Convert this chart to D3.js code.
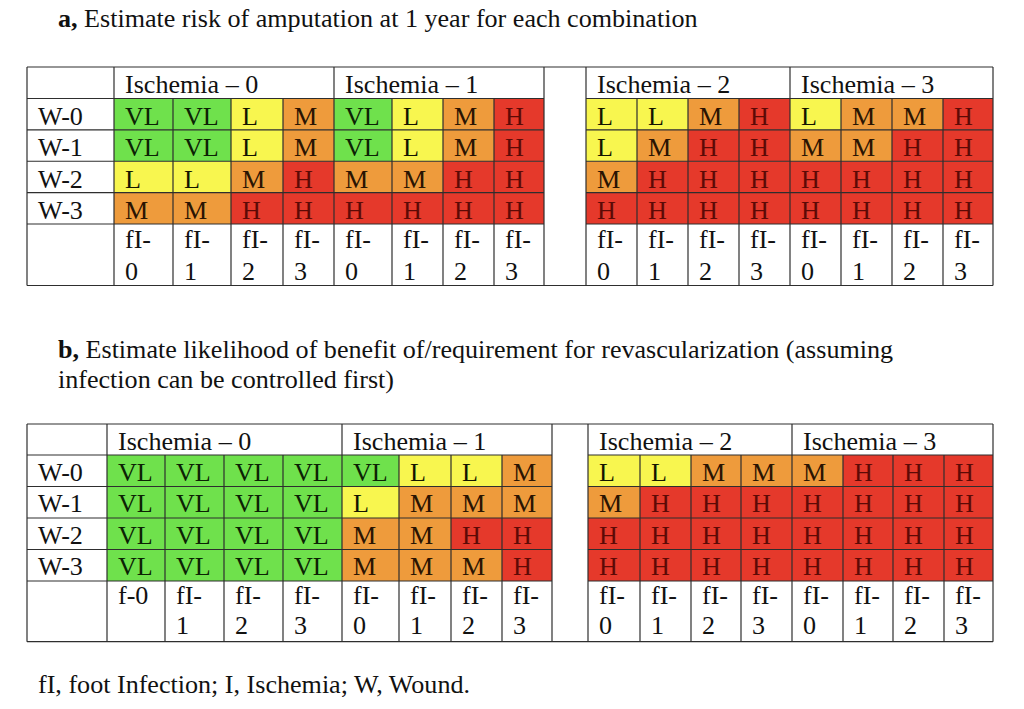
<!DOCTYPE html>
<html><head><meta charset="utf-8">
<script src="https://cdn.jsdelivr.net/npm/d3@7"></script>
<style>
html,body{margin:0;padding:0;background:#fff;}
svg{display:block;}
text{font-family:"Liberation Serif","Times New Roman",Times,serif;}
</style></head>
<body>
<svg id="chart" width="1024" height="709"></svg>
<script>
// ---------- data ----------
const levels = ["VL", "L", "M", "H"];
const rowLabels = ["W-0", "W-1", "W-2", "W-3"];
const ischemiaLabels = ["Ischemia – 0", "Ischemia – 1", "Ischemia – 2", "Ischemia – 3"];
const footLabelsA = ["fI-0","fI-1","fI-2","fI-3","fI-0","fI-1","fI-2","fI-3","fI-0","fI-1","fI-2","fI-3","fI-0","fI-1","fI-2","fI-3"];
const footLabelsB = ["f-0","fI-1","fI-2","fI-3","fI-0","fI-1","fI-2","fI-3","fI-0","fI-1","fI-2","fI-3","fI-0","fI-1","fI-2","fI-3"];
const gradesA = [
  ["VL","VL","L","M", "VL","L","M","H", "L","L","M","H", "L","M","M","H"],
  ["VL","VL","L","M", "VL","L","M","H", "L","M","H","H", "M","M","H","H"],
  ["L","L","M","H",   "M","M","H","H",  "M","H","H","H", "H","H","H","H"],
  ["M","M","H","H",   "H","H","H","H",  "H","H","H","H", "H","H","H","H"]
];
const gradesB = [
  ["VL","VL","VL","VL", "VL","L","L","M", "L","L","M","M", "M","H","H","H"],
  ["VL","VL","VL","VL", "L","M","M","M",  "M","H","H","H", "H","H","H","H"],
  ["VL","VL","VL","VL", "M","M","H","H",  "H","H","H","H", "H","H","H","H"],
  ["VL","VL","VL","VL", "M","M","M","H",  "H","H","H","H", "H","H","H","H"]
];
const titleA = ["Estimate risk of amputation at 1 year for each combination"];
const titleB = ["Estimate likelihood of benefit of/requirement for revascularization (assuming", "infection can be controlled first)"];
const footnote = "fI, foot Infection; I, Ischemia; W, Wound.";

// ---------- layout ----------
const FS = 24.5, SX = 1.065;
const fill = d3.scaleOrdinal().domain(levels).range(["#6fe14c", "#f8f64f", "#ee9b3c", "#e5392b"]);
const ink = d3.scaleOrdinal().domain(levels).range(["#0c2204", "#141400", "#2a1402", "#5c0a06"]);
const LINE = "#2e2e2e";

const tables = [
  { grades: gradesA, foot: footLabelsA, left: 27, labelRight: 114, top: 67, headBottom: 98.5, footTop: 224, bottom: 285.5,
    edges: [114,173,231,283,334,392,443,494,544,586,637,688,739,790,841,892,943,993],
    headBase: 26, rowBase: 26.5, footBase1: 24, footBase2: 56 },
  { grades: gradesB, foot: footLabelsB, left: 27, labelRight: 107, top: 424, headBottom: 455, footTop: 581, bottom: 641.7,
    edges: [107,165,224,283,342,399,451,502,552,588,640,691,741,792,843,893,944,993],
    headBase: 25.5, rowBase: 25.5, footBase1: 23, footBase2: 53 }
];

const svg = d3.select("#chart");

function txt(g, x, y, s, opts = {}) {
  const t = g.append("text")
    .attr("transform", `translate(${x},${y}) scale(${SX},1)`)
    .attr("font-size", opts.size || FS)
    .attr("fill", opts.fill || "#111")
    .text(s);
  if (opts.bold) t.attr("font-weight", "bold");
  return t;
}

// titles
function title(y, lead, lines) {
  const g = svg.append("g");
  lines.forEach((line, i) => {
    const t = g.append("text")
      .attr("transform", `translate(58,${y + i * 30}) scale(${SX},1)`)
      .attr("font-size", FS).attr("fill", "#111");
    if (i === 0) t.append("tspan").attr("font-weight", "bold").text(lead + " ");
    t.append("tspan").text(line);
  });
}
title(27, "a,", titleA);
title(358, "b,", titleB);
txt(svg, 38, 693, footnote);

tables.forEach(T => {
  const g = svg.append("g");
  // unit position -> pixel, gap occupies unit 8..9
  const x = d3.scaleLinear().domain(d3.range(T.edges.length)).range(T.edges);
  const colUnit = i => i + (i >= 8 ? 1 : 0);
  const y = d3.scaleBand().domain(rowLabels).range([T.headBottom, T.footTop]).paddingInner(0);
  const right = T.edges[T.edges.length - 1];
  const gapL = x(8), gapR = x(9);

  // cells
  const cells = [];
  T.grades.forEach((row, r) => row.forEach((v, c) => cells.push({ r, c, v })));
  g.selectAll("rect.cell").data(cells).join("rect").attr("class", "cell")
    .attr("x", d => x(colUnit(d.c)))
    .attr("y", d => y(rowLabels[d.r]))
    .attr("width", d => x(colUnit(d.c) + 1) - x(colUnit(d.c)))
    .attr("height", y.bandwidth())
    .attr("fill", d => fill(d.v));

  g.selectAll("text.cell").data(cells).join("text").attr("class", "cell")
    .attr("transform", d => `translate(${x(colUnit(d.c)) + 11},${y(rowLabels[d.r]) + T.rowBase}) scale(${SX},1)`)
    .attr("font-size", FS).attr("fill", d => ink(d.v)).text(d => d.v);

  // row labels
  rowLabels.forEach(lab => txt(g, T.left + 11, y(lab) + T.rowBase, lab));

  // headers
  ischemiaLabels.forEach((lab, k) => txt(g, x(colUnit(k * 4)) + 11, T.top + T.headBase, lab));

  // foot labels (wrap after hyphen when too wide for the cell)
  T.foot.forEach((lab, c) => {
    const x0 = x(colUnit(c)), w = x(colUnit(c) + 1) - x0;
    const probe = txt(g, x0 + 11, T.footTop + T.footBase1, lab);
    const tw = probe.node().getComputedTextLength() * SX;
    if (tw > w - 20) {
      const i = lab.indexOf("-") + 1;
      probe.text(lab.slice(0, i));
      txt(g, x0 + 11, T.footTop + T.footBase2, lab.slice(i));
    }
  });

  // grid lines
  const lines = [];
  lines.push([T.left, T.top, right, T.top]);
  lines.push([T.left, T.bottom, right, T.bottom]);
  [T.headBottom, ...rowLabels.map(l => y(l) + y.bandwidth())].forEach(yy => {
    lines.push([T.left, yy, gapL, yy]);
    lines.push([gapR, yy, right, yy]);
  });
  [T.left, T.labelRight, gapL, gapR, right, x(colUnit(4)), x(colUnit(12))].forEach(xx => lines.push([xx, T.top, xx, T.bottom]));
  for (let c = 1; c < 16; c++) {
    if (c % 4 === 0) continue;
    const xx = x(colUnit(c));
    lines.push([xx, T.headBottom, xx, T.bottom]);
  }
  g.selectAll("line").data(lines).join("line")
    .attr("x1", d => d[0]).attr("y1", d => d[1]).attr("x2", d => d[2]).attr("y2", d => d[3])
    .attr("stroke", LINE).attr("stroke-width", 1.2);
});
</script>
</body></html>
